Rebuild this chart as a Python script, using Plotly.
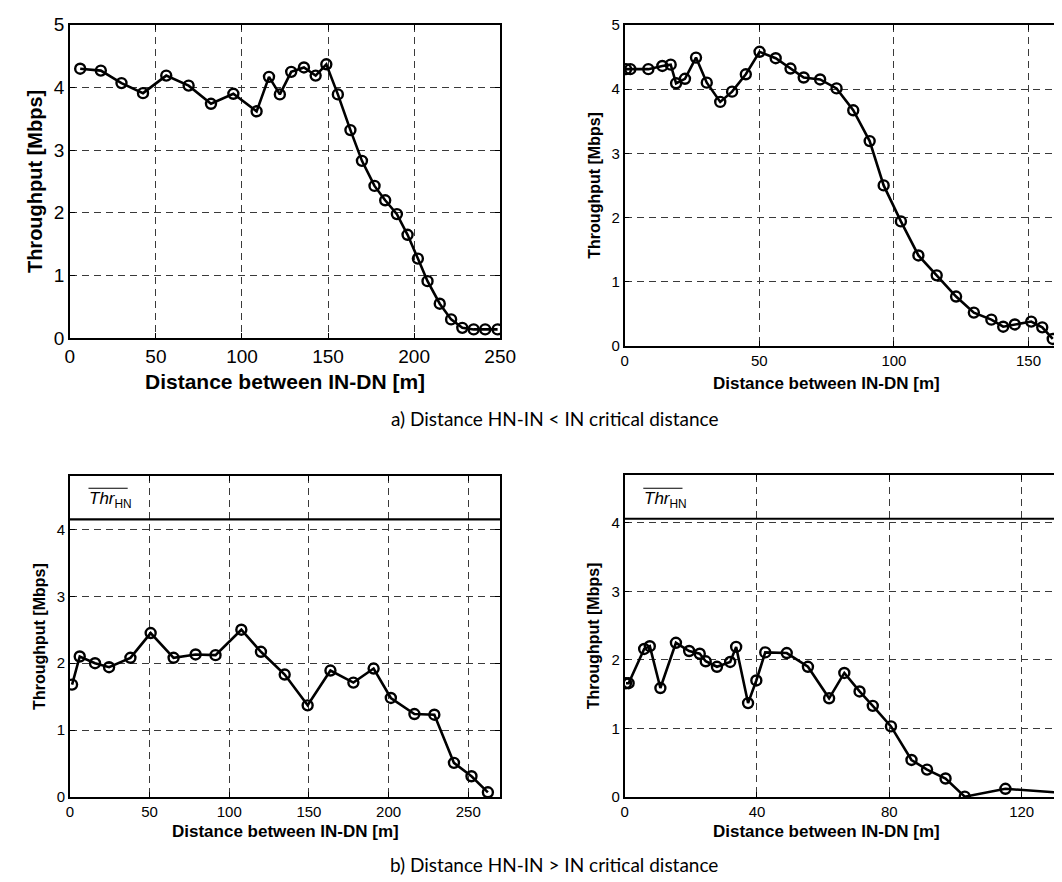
import plotly.graph_objects as go

W, H = 1062, 882

# ---------------- data ----------------
# a) left panel
a1_x = [6, 18, 30, 42.5, 56, 69, 82, 95, 108.5, 115.7, 122, 128.6, 136, 142.8, 149,
        155.7, 163, 169.7, 177, 183.2, 190, 196.2, 202.2, 207.8, 214.9, 221.5, 228,
        234.6, 241.3, 248.5]
a1_y = [4.30, 4.27, 4.07, 3.91, 4.19, 4.03, 3.74, 3.90, 3.62, 4.17, 3.89, 4.25, 4.32,
        4.19, 4.37, 3.89, 3.32, 2.83, 2.43, 2.20, 1.98, 1.65, 1.27, 0.91, 0.55, 0.30,
        0.165, 0.14, 0.14, 0.14]
# a) right panel
a2_x = [0.5, 2.1, 8.8, 14, 17.1, 19.1, 22.4, 26.5, 30.5, 35.5, 39.9, 45, 50.1, 56.1,
        61.6, 66.5, 72.6, 78.7, 84.9, 91, 96.2, 102.6, 109.1, 115.9, 123.1, 129.7,
        136.2, 140.6, 144.9, 151, 155.1, 159]
a2_y = [4.31, 4.31, 4.31, 4.36, 4.38, 4.09, 4.16, 4.49, 4.10, 3.80, 3.96, 4.23, 4.58,
        4.48, 4.32, 4.18, 4.15, 4.01, 3.67, 3.19, 2.50, 1.94, 1.41, 1.10, 0.77, 0.52,
        0.41, 0.30, 0.335, 0.38, 0.29, 0.11]
# b) left panel
b1_x = [1.4, 6.2, 15.8, 24.6, 38, 50.7, 65.1, 78.9, 91.4, 107.6, 119.9, 134.8, 149.2,
        163.5, 177.9, 190.6, 201.4, 216.2, 228.7, 241, 252, 262.3]
b1_y = [1.68, 2.10, 2.00, 1.94, 2.08, 2.45, 2.08, 2.13, 2.12, 2.50, 2.17, 1.83, 1.37,
        1.89, 1.71, 1.92, 1.48, 1.24, 1.23, 0.51, 0.31, 0.07]
b1_thr = 4.15
# b) right panel
b2_x = [0.4, 1.2, 5.9, 7.6, 10.8, 15.5, 19.5, 22.7, 24.5, 27.9, 31.9, 33.7, 37.3, 39.8,
        42.5, 49, 55.4, 61.8, 66.4, 71, 75, 80.5, 86.7, 91.4, 97, 102.8, 115.1, 135]
b2_y = [1.66, 1.66, 2.16, 2.20, 1.59, 2.25, 2.13, 2.09, 1.98, 1.90, 1.97, 2.19, 1.37,
        1.70, 2.11, 2.10, 1.90, 1.44, 1.81, 1.54, 1.33, 1.03, 0.54, 0.40, 0.27, 0.005,
        0.12, 0.05]
b2_thr = 4.06

a1_xticks = [0, 50, 100, 150, 200, 250]
a2_xticks = [0, 50, 100, 150]
b1_xticks = [0, 50, 100, 150, 200, 250]
b2_xticks = [0, 40, 80, 120]
a_yticks = [0, 1, 2, 3, 4, 5]
b_yticks = [0, 1, 2, 3, 4]

x_title = "Distance between IN-DN [m]"
y_title = "Throughput [Mbps]"
cap_a = "a) Distance HN-IN &lt; IN critical distance"
cap_b = "b) Distance HN-IN &gt; IN critical distance"

# ---------------- layout helpers ----------------
def px_x(p):
    return p / W

def px_y(p):
    return 1 - p / H

FONT = "Liberation Sans, Arial, sans-serif"

fig = go.Figure()

line_style = dict(color="black", width=2.6)
marker_style = dict(symbol="circle-open", size=10, color="black",
                    line=dict(width=2.4, color="black"))

panels = [
    ("x", "y", a1_x, a1_y),
    ("x2", "y2", a2_x, a2_y),
    ("x3", "y3", b1_x, b1_y),
    ("x4", "y4", b2_x, b2_y),
]
for xa, ya, xs, ys in panels:
    fig.add_trace(go.Scatter(x=xs, y=ys, xaxis=xa, yaxis=ya, mode="lines+markers",
                             line=line_style, marker=marker_style, showlegend=False,
                             cliponaxis=True))

def axis(domain, rng, ticks, fsize, anchor, mirror):
    return dict(domain=domain, range=rng, tickvals=ticks, ticktext=[str(t) for t in ticks],
                showline=True, linecolor="black", linewidth=1.5, mirror=mirror,
                ticks="inside", ticklen=5, tickcolor="black", tickwidth=1,
                showgrid=True, gridcolor="#3a3a3a", gridwidth=1, griddash="7px,5px",
                zeroline=False, anchor=anchor, ticklabeloverflow="allow",
                tickfont=dict(family=FONT, size=fsize, color="black"))

# pixel boxes
TL = (58, 497, 7, 328)
TR = (624, 1062, 7, 336)
BL = (58, 497, 469, 798)
BR = (624, 1062, 468, 798)

def dom_x(b):
    return [px_x(b[0]), px_x(b[1])]

def dom_y(b):
    return [px_y(b[3]), px_y(b[2])]

fig.update_layout(
    xaxis=axis(dom_x(TL), [0, 250], a1_xticks, 19, "y", "ticks"),
    yaxis=axis(dom_y(TL), [0, 5], a_yticks, 19, "x", "ticks"),
    xaxis2=axis(dom_x(TR), [0, (TR[1] - TR[0]) / ((1036 - 624) / 150)], a2_xticks, 15, "y2", "ticks"),
    yaxis2=axis(dom_y(TR), [0, 5], a_yticks, 15, "x2", False),
    xaxis3=axis(dom_x(BL), [0, 270], b1_xticks, 15, "y3", "ticks"),
    yaxis3=axis(dom_y(BL), [0, 4.8], b_yticks, 15, "x3", "ticks"),
    xaxis4=axis(dom_x(BR), [0, (BR[1] - BR[0]) / ((1029 - 624) / 120)], b2_xticks, 15, "y4", "ticks"),
    yaxis4=axis(dom_y(BR), [0, 4.7], b_yticks, 15, "x4", False),
)

# threshold lines
fig.add_shape(type="line", xref="x3 domain", yref="y3", x0=0, x1=1, y0=b1_thr, y1=b1_thr,
              line=dict(color="black", width=2.2))
fig.add_shape(type="line", xref="x4 domain", yref="y4", x0=0, x1=1, y0=b2_thr, y1=b2_thr,
              line=dict(color="black", width=2.2))

annotations = []

def ann(text, x, y, size, bold=False, angle=0, family=FONT, xanchor="center", yanchor="middle"):
    annotations.append(dict(text=f"<b>{text}</b>" if bold else text, x=px_x(x), y=px_y(y),
                            xref="paper", yref="paper", showarrow=False, textangle=angle,
                            xanchor=xanchor, yanchor=yanchor,
                            font=dict(family=family, size=size, color="black")))

# axis titles
ann(y_title, 22, (TL[2] + TL[3]) / 2, 20, bold=True, angle=-90)
ann(x_title, (TL[0] + TL[1]) / 2, 372, 21, bold=True)
ann(y_title, 593, (TR[2] + TR[3]) / 2, 16, bold=True, angle=-90)
ann(x_title, 830, 374, 17, bold=True)
ann(y_title, 27, (BL[2] + BL[3]) / 2, 16, bold=True, angle=-90)
ann(x_title, (BL[0] + BL[1]) / 2, 833, 17, bold=True)
ann(y_title, 593, (BR[2] + BR[3]) / 2, 16, bold=True, angle=-90)
ann(x_title, 830, 833, 17, bold=True)

# captions
CAP_FONT = "Lato, Open Sans, sans-serif"
ann(cap_a, 552, 410, 19, family=CAP_FONT)
ann(cap_b, 552, 867, 19, family=CAP_FONT)

# Thr_HN labels
for (x0, yb) in [(76, 494), (642, 494)]:
    ann("<i>Thr</i><sub>HN</sub>", x0, yb, 17, xanchor="left")
    fig.add_shape(type="line", xref="paper", yref="paper",
                  x0=px_x(x0 + 1), x1=px_x(x0 + 41), y0=px_y(481.7), y1=px_y(481.7),
                  line=dict(color="black", width=1.2))

fig.update_layout(
    width=W, height=H, margin=dict(l=0, r=0, t=0, b=0),
    paper_bgcolor="white", plot_bgcolor="white",
    annotations=annotations, showlegend=False,
)

fig.write_html("out.html")
